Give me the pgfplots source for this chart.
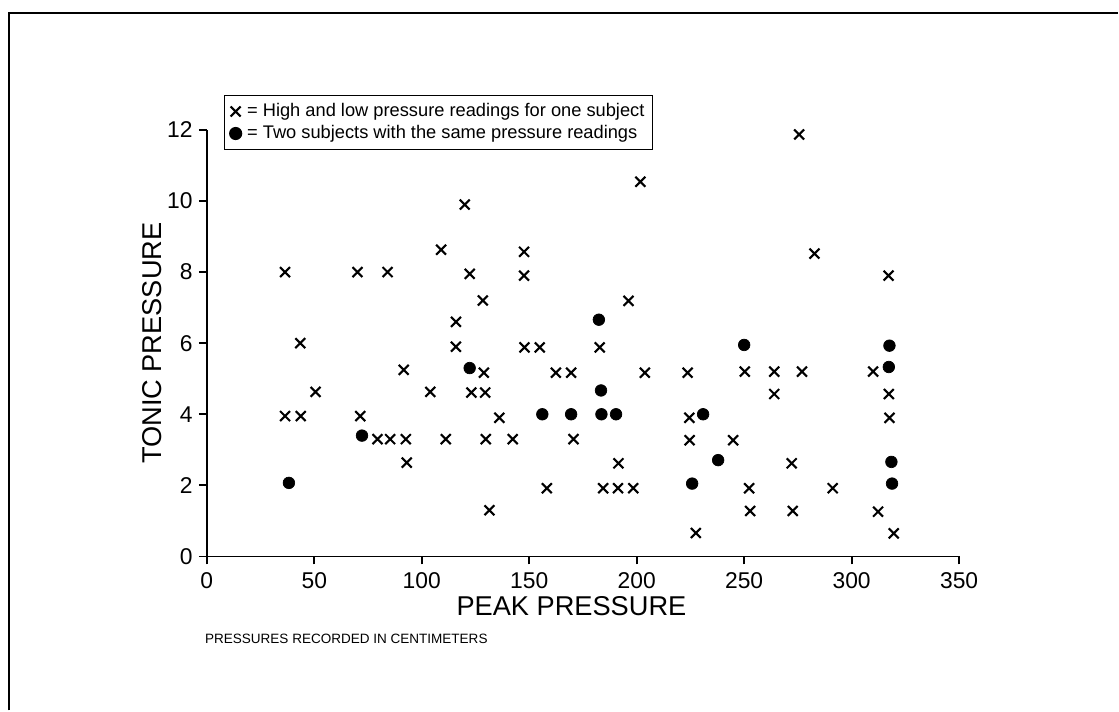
\documentclass[border=0pt]{standalone}
\usepackage{fontspec}
\setmainfont{Liberation Sans}
\usepackage{pgfplots}
\pgfplotsset{compat=1.18}

\begin{document}
\begin{tikzpicture}[x=1cm,y=1cm]
\begin{axis}[
    at={(0,0)}, anchor=south west,
    scale only axis,
    width=15.06cm, height=8.54cm,
    xmin=0, xmax=350, ymin=0, ymax=12,
    axis x line=bottom, axis y line=left,
    axis line style={-, line width=1.1pt},
    xtick={0,50,...,350}, ytick={0,2,...,12},
    tick align=outside,
    major tick length=0.16cm,
    tick style={line width=1.1pt, black},
    /pgf/number format/assume math mode=true,
    tick label style={font=\fontsize{13}{15}\selectfont},
    xticklabel style={yshift=-1pt},
    xlabel={PEAK PRESSURE},
    ylabel={TONIC PRESSURE},
    every axis x label/.style={at={(axis description cs:0.4847,-0.117)}, anchor=center,
        font=\fontsize{15.5}{18}\selectfont},
    every axis y label/.style={at={(axis description cs:-0.0724,0.5)}, rotate=90, anchor=center,
        font=\fontsize{15.5}{18}\selectfont},
    legend style={at={(axis description cs:0.0226,1.082)}, anchor=north west,
        draw=black, line width=0.9pt, font=\fontsize{10.4}{12}\selectfont,
        inner xsep=3pt, inner ysep=3pt, row sep=0.5pt,
        nodes={inner sep=1.5pt}},
    legend cell align=left,
    legend image code/.code={\draw[#1] (0.12cm,0cm) -- plot coordinates {(0.12cm,0cm)};},
    clip=false,
]
\addplot[only marks, mark=x, mark size=4pt, mark options={line width=1.2pt, black}]
coordinates {
(36.4,8.0) (36.4,3.95) (43.5,6.0) (43.7,3.95) (50.6,4.63) (70.1,8.0) (71.4,3.95)
(79.4,3.3) (84.1,8.0) (85.3,3.3) (91.6,5.25) (92.6,3.3) (93.0,2.64) (104.0,4.63)
(109.0,8.63) (111.2,3.3) (115.9,6.6) (115.9,5.9) (120.0,9.9) (122.3,7.95) (123.1,4.61)
(128.4,7.2) (128.9,5.17) (129.5,4.61) (129.8,3.3) (131.5,1.3) (136.1,3.9) (142.3,3.3)
(147.6,8.57) (147.6,7.9) (147.8,5.88) (154.9,5.88) (158.2,1.92) (162.4,5.17) (169.5,5.17)
(170.6,3.3) (182.8,5.88) (184.4,1.92) (191.3,1.92) (191.5,2.62) (196.2,7.19) (198.4,1.92)
(201.7,10.54) (203.8,5.17) (223.7,5.17) (224.5,3.9) (224.6,3.27) (227.5,0.66) (244.9,3.27)
(250.3,5.2) (252.3,1.92) (252.8,1.28) (264.0,5.2) (264.0,4.57) (272.1,2.62) (272.6,1.28)
(275.6,11.87) (276.9,5.2) (282.7,8.52) (291.2,1.92) (310.0,5.2) (312.3,1.26) (317.2,7.9)
(317.3,4.57) (317.6,3.9) (319.6,0.65)
};
\addlegendentry{\,= High and low pressure readings for one subject}
\addplot[only marks, mark=*, mark size=3.3pt, mark options={black, fill=black}]
coordinates {
(38.2,2.07) (72.2,3.4) (122.3,5.3) (156.1,4.0) (169.5,4.0) (182.4,6.66) (183.4,4.67)
(183.6,4.0) (190.4,4.0) (225.8,2.05) (230.9,4.0) (237.9,2.71) (250.0,5.95) (317.6,5.93)
(317.3,5.33) (318.5,2.66) (318.8,2.05)
};
\addlegendentry{\,= Two subjects with the same pressure readings}
\node[anchor=west, inner sep=0pt, font=\fontsize{7.7}{9}\selectfont]
    at (axis description cs:-0.0027,-0.194) {PRESSURES RECORDED IN CENTIMETERS};
\end{axis}
\draw[line width=1.2pt] (-3.96,-3.08) -- (-3.96,10.88) -- (18.24,10.88);
\path (-4.14,-3.08) rectangle (18.24,11.14);
\end{tikzpicture}
\end{document}
